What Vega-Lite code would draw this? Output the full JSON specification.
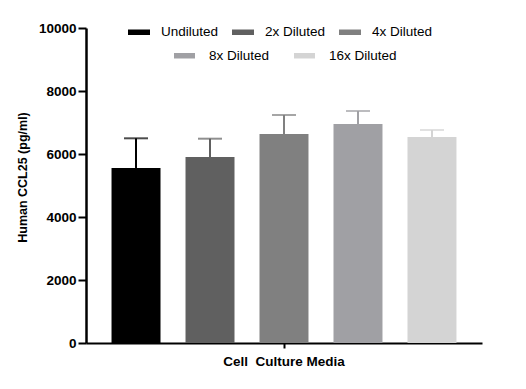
{
  "$schema": "https://vega.github.io/schema/vega-lite/v6.json",
  "width": 396,
  "height": 315,
  "autosize": {"type": "none"},
  "padding": {"left": 86, "top": 28, "right": 44, "bottom": 46},
  "background": "white",
  "config": {
    "view": {"stroke": null},
    "font": "Liberation Sans",
    "axis": {"grid": false, "domainColor": "black", "tickColor": "black", "labelColor": "black", "titleColor": "black", "labelFont": "Liberation Sans", "titleFont": "Liberation Sans"}
  },
  "data": {
    "values": [
      {"group": "Cell\u00a0 Culture Media", "dilution": "Undiluted", "mean": 5556, "upper": 6498},
      {"group": "Cell\u00a0 Culture Media", "dilution": "2x Diluted", "mean": 5905, "upper": 6486},
      {"group": "Cell\u00a0 Culture Media", "dilution": "4x Diluted", "mean": 6635, "upper": 7238},
      {"group": "Cell\u00a0 Culture Media", "dilution": "8x Diluted", "mean": 6952, "upper": 7365},
      {"group": "Cell\u00a0 Culture Media", "dilution": "16x Diluted", "mean": 6540, "upper": 6762}
    ]
  },
  "encoding": {
    "x": {
      "field": "group", "type": "nominal",
      "scale": {"paddingInner": 0, "paddingOuter": 0},
      "axis": {"title": null, "labelAngle": 0, "domainWidth": 2, "tickWidth": 2, "tickSize": 5, "labelPadding": 6, "labelFontSize": 13.5, "labelFontWeight": "bold"}
    },
    "xOffset": {
      "field": "dilution", "type": "nominal",
      "sort": ["Undiluted", "2x Diluted", "4x Diluted", "8x Diluted", "16x Diluted"],
      "scale": {"paddingInner": 0.338, "paddingOuter": 0.345}
    }
  },
  "layer": [
    {
      "mark": {"type": "bar"},
      "encoding": {
        "y": {
          "field": "mean", "type": "quantitative",
          "scale": {"domain": [0, 10000], "nice": false},
          "axis": {"title": "Human CCL25 (pg/ml)", "format": "d", "values": [0, 2000, 4000, 6000, 8000, 10000], "domainWidth": 2.5, "tickWidth": 2, "tickSize": 8, "labelPadding": 2, "labelFontSize": 13.5, "labelFontWeight": "bold", "titleFontSize": 12.5, "titleFontWeight": "bold", "titleX": -64, "titleY": 149, "titleAngle": -90, "titleAlign": "center", "titleBaseline": "middle"}
        },
        "fill": {
          "field": "dilution", "type": "nominal",
          "scale": {"domain": ["Undiluted", "2x Diluted", "4x Diluted", "8x Diluted", "16x Diluted"], "range": ["#000000", "#606060", "#808080", "#a0a0a4", "#d4d4d4"]},
          "legend": {
            "title": null, "orient": "none", "legendX": 42, "legendY": -7,
            "direction": "horizontal", "columns": 3,
            "values": ["Undiluted", "2x Diluted", "4x Diluted"],
            "symbolType": "M-1,-0.25L1,-0.25L1,0.25L-1,0.25Z", "symbolSize": 484, "symbolStrokeWidth": 0, "symbolOpacity": 1,
            "labelFont": "Liberation Sans", "labelFontSize": 13.5, "labelColor": "black", "labelOffset": 11, "columnPadding": 13,
            "encode": {"symbols": {"update": {"opacity": {"value": 1}}}}
          }
        }
      }
    },
    {
      "mark": {"type": "rule", "strokeWidth": 2},
      "encoding": {
        "y": {"field": "mean", "type": "quantitative"},
        "y2": {"field": "upper"},
        "stroke": {
          "field": "dilution", "type": "nominal",
          "scale": {"domain": ["8x Diluted", "16x Diluted", "Undiluted", "2x Diluted", "4x Diluted"], "range": ["#a0a0a4", "#d4d4d4", "#000000", "#606060", "#808080"]},
          "legend": {
            "title": null, "orient": "none", "legendX": 85, "legendY": 14,
            "direction": "horizontal", "columns": 2,
            "values": ["8x Diluted", "16x Diluted"],
            "symbolType": "stroke", "symbolSize": 441, "symbolStrokeWidth": 5.5, "symbolOpacity": 1,
            "labelFont": "Liberation Sans", "labelFontSize": 13.5, "labelColor": "black", "labelOffset": 11, "columnPadding": 13,
            "encode": {"symbols": {"update": {"strokeWidth": {"value": 5.5}, "opacity": {"value": 1}}}}
          }
        }
      }
    },
    {
      "mark": {"type": "tick", "size": 24, "thickness": 2},
      "encoding": {
        "y": {"field": "upper", "type": "quantitative"},
        "fill": {"field": "dilution", "type": "nominal"}
      }
    }
  ]
}
